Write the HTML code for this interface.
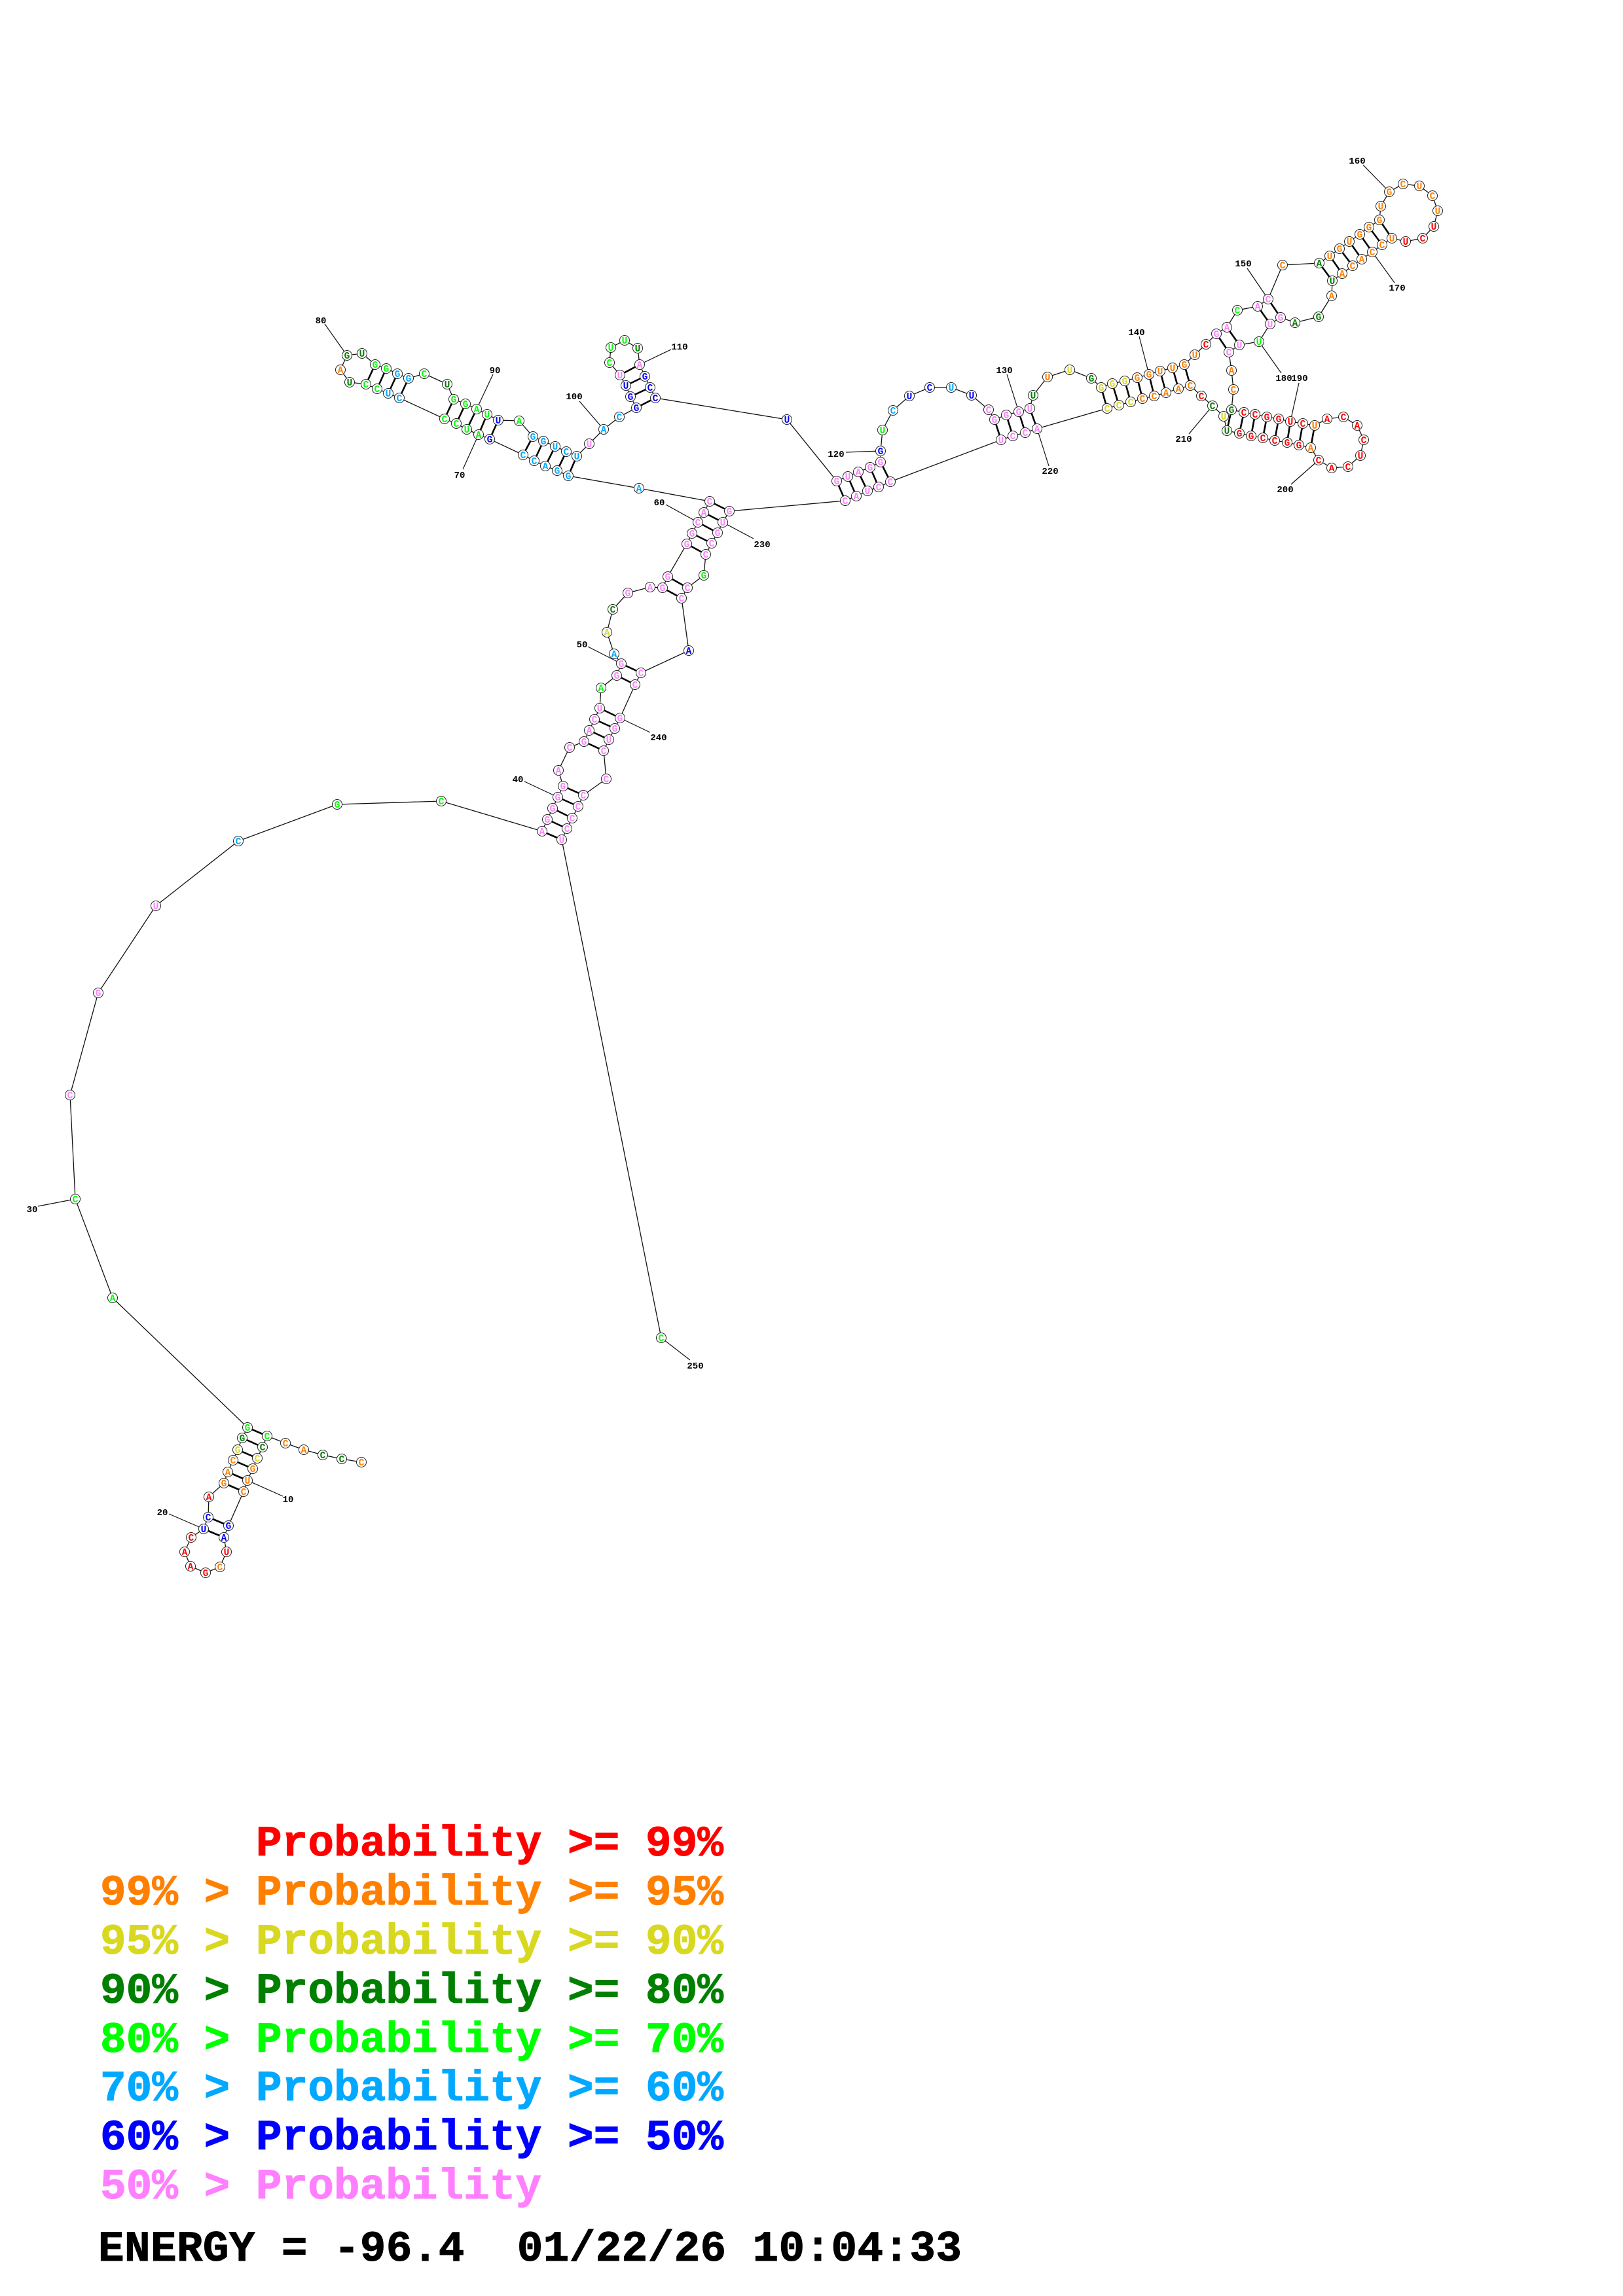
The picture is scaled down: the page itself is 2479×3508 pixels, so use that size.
<!DOCTYPE html>
<html>
<head>
<meta charset="utf-8">
<title>RNA secondary structure</title>
<style>
html,body{margin:0;padding:0;background:#fff}
svg{display:block}
circle{fill:#fff;stroke:#222;stroke-width:1}
.n text{font-family:"Liberation Mono",monospace;font-weight:bold;font-size:14.5px;text-anchor:middle;stroke:none}
.lab{font-family:"Liberation Mono",monospace;font-weight:bold;font-size:14px;text-anchor:middle;fill:#000}
.leg{font-family:"Liberation Mono",monospace;font-weight:bold;font-size:66px;stroke-width:1px}
.r{fill:#ff0000;stroke:#ff0000}.o{fill:#ff8000;stroke:#ff8000}.y{fill:#d8d820;stroke:#d8d820}.d{fill:#008000;stroke:#008000}.g{fill:#00ff00;stroke:#00ff00}.l{fill:#00a8ff;stroke:#00a8ff}.b{fill:#0000ff;stroke:#0000ff}.p{fill:#ff80ff;stroke:#ff80ff}.k{fill:#000;stroke:#000}
</style>
</head>
<body>
<svg xmlns="http://www.w3.org/2000/svg" width="2479" height="3508" viewBox="0 0 2479 3508">
<rect width="2479" height="3508" fill="#fff"/>
<polyline fill="none" stroke="#111" stroke-width="1.3" points="552,2234 522,2229 493,2223 464,2215 436,2205 408,2194 401,2211 393,2228 386,2244 378,2262 372,2279 349,2331 342,2349 346,2371 336,2394 314,2403 291,2393 282,2371 292,2349 311,2336 318,2318 319,2287 342,2266 348,2249 356,2231 363,2215 370,2197 378,2181 172,1983 115,1832 107,1673 150,1517 238,1384 364,1285 515,1229 674,1224 828,1270 836,1252 844,1235 852,1218 860,1201 853,1177 870,1142 892,1133 900,1116 908,1099 916,1082 918,1051 942,1032 949,1014 938,999 927,966 936,931 959,906 993,897 1012,898 1020,881 1049,831 1057,815 1066,798 1075,783 1084,766 976,746 868,727 851,719 833,712 816,704 799,695 748,671 731,664 713,656 697,647 679,640 610,608 593,601 576,594 559,587 534,584 520,565 530,543 553,540 573,557 590,563 607,571 624,578 648,571 683,587 693,610 711,617 728,625 744,633 761,642 793,643 814,667 830,674 848,682 865,690 881,697 900,678 922,656 946,637 972,623 963,606 956,589 947,573 931,554 933,531 954,520 974,532 977,557 985,575 993,592 1001,608 1202,641 1278,735 1295,728 1311,721 1329,714 1345,706 1345,689 1348,657 1364,627 1389,605 1420,592 1453,592 1484,604 1510,626 1519,641 1537,634 1556,629 1573,624 1578,604 1600,576 1634,565 1667,578 1682,592 1699,586 1718,582 1737,577 1755,572 1772,567 1791,562 1809,557 1825,542 1842,526 1858,510 1874,500 1890,474 1921,468 1937,457 1959,405 2015,402 2031,391 2046,380 2061,369 2077,358 2091,347 2107,336 2109,315 2122,293 2143,281 2168,284 2188,299 2196,322 2190,346 2173,364 2147,369 2126,364 2111,374 2096,385 2080,396 2066,406 2050,418 2035,429 2034,452 2014,484 1978,493 1956,485 1940,495 1923,522 1893,527 1877,538 1881,566 1884,595 1881,626 1900,630 1917,633 1935,637 1953,640 1971,644 1990,647 2008,650 2027,640 2052,637 2073,650 2083,672 2078,696 2059,713 2034,715 2014,703 2002,684 1984,680 1966,676 1947,673 1929,669 1911,666 1893,662 1874,658 1869,636 1852,620 1835,605 1818,589 1800,594 1781,600 1763,605 1745,609 1727,614 1709,619 1691,624 1584,655 1566,661 1547,666 1529,672 1360,736 1342,744 1325,750 1308,758 1291,765 1114,781 1104,798 1096,814 1087,830 1078,847 1075,879 1050,898 1041,914 1052,994 979,1028 970,1046 947,1097 939,1113 930,1130 922,1147 926,1190 891,1215 883,1232 874,1250 866,1266 858,1283 1010,2044"/>
<path fill="none" stroke="#000" stroke-width="2.6" d="M408 2194L378 2181M401 2211L370 2197M393 2228L363 2215M386 2244L356 2231M378 2262L348 2249M372 2279L342 2266M349 2331L318 2318M342 2349L311 2336M828 1270L858 1283M836 1252L866 1266M844 1235L874 1250M852 1218L883 1232M860 1201L891 1215M892 1133L922 1147M900 1116L930 1130M908 1099L939 1113M916 1082L947 1097M942 1032L970 1046M949 1014L979 1028M1012 898L1041 914M1020 881L1050 898M1049 831L1078 847M1057 815L1087 830M1066 798L1096 814M1075 783L1104 798M1084 766L1114 781M868 727L881 697M851 719L865 690M833 712L848 682M816 704L830 674M799 695L814 667M748 671L761 642M731 664L744 633M713 656L728 625M697 647L711 617M679 640L693 610M610 608L624 578M593 601L607 571M576 594L590 563M559 587L573 557M972 623L1001 608M963 606L993 592M956 589L985 575M947 573L977 557M1278 735L1291 765M1295 728L1308 758M1311 721L1325 750M1329 714L1342 744M1345 706L1360 736M1519 641L1529 672M1537 634L1547 666M1556 629L1566 661M1573 624L1584 655M1682 592L1691 624M1699 586L1709 619M1718 582L1727 614M1737 577L1745 609M1755 572L1763 605M1772 567L1781 600M1791 562L1800 594M1809 557L1818 589M1858 510L1877 538M1874 500L1893 527M1921 468L1940 495M1937 457L1956 485M2015 402L2035 429M2031 391L2050 418M2046 380L2066 406M2061 369L2080 396M2077 358L2096 385M2091 347L2111 374M2107 336L2126 364M1881 626L1874 658M1900 630L1893 662M1917 633L1911 666M1935 637L1929 669M1953 640L1947 673M1971 644L1966 676M1990 647L1984 680M2008 650L2002 684"/>
<path fill="none" stroke="#111" stroke-width="1.2" d="M378 2262L432 2286M311 2336L258 2313M115 1832L58 1843M852 1218L801 1194M949 1014L898 988M1066 798L1017 771M731 664L707 717M530 543L496 495M728 625L753 572M922 656L885 613M977 557L1025 534M1345 689L1292 691M1556 629L1538 572M1755 572L1740 514M1937 457L1905 410M2122 293L2082 252M2096 385L2130 432M1923 522L1957 570M1971 644L1984 585M2014 703L1972 740M1852 620L1816 663M1584 655L1602 712M1104 798L1151 823M947 1097L993 1119M1010 2044L1054 2078"/>
<g class="n">
<circle cx="552" cy="2234" r="7.5"/><text class="o" x="552" y="2239">C</text>
<circle cx="522" cy="2229" r="7.5"/><text class="d" x="522" y="2234">C</text>
<circle cx="493" cy="2223" r="7.5"/><text class="d" x="493" y="2228">C</text>
<circle cx="464" cy="2215" r="7.5"/><text class="o" x="464" y="2220">A</text>
<circle cx="436" cy="2205" r="7.5"/><text class="o" x="436" y="2210">C</text>
<circle cx="408" cy="2194" r="7.5"/><text class="g" x="408" y="2199">C</text>
<circle cx="401" cy="2211" r="7.5"/><text class="d" x="401" y="2216">C</text>
<circle cx="393" cy="2228" r="7.5"/><text class="y" x="393" y="2233">C</text>
<circle cx="386" cy="2244" r="7.5"/><text class="o" x="386" y="2249">G</text>
<circle cx="378" cy="2262" r="7.5"/><text class="o" x="378" y="2267">U</text>
<circle cx="372" cy="2279" r="7.5"/><text class="o" x="372" y="2284">C</text>
<circle cx="349" cy="2331" r="7.5"/><text class="b" x="349" y="2336">G</text>
<circle cx="342" cy="2349" r="7.5"/><text class="b" x="342" y="2354">A</text>
<circle cx="346" cy="2371" r="7.5"/><text class="r" x="346" y="2376">U</text>
<circle cx="336" cy="2394" r="7.5"/><text class="o" x="336" y="2399">C</text>
<circle cx="314" cy="2403" r="7.5"/><text class="r" x="314" y="2408">G</text>
<circle cx="291" cy="2393" r="7.5"/><text class="r" x="291" y="2398">A</text>
<circle cx="282" cy="2371" r="7.5"/><text class="r" x="282" y="2376">A</text>
<circle cx="292" cy="2349" r="7.5"/><text class="r" x="292" y="2354">C</text>
<circle cx="311" cy="2336" r="7.5"/><text class="b" x="311" y="2341">U</text>
<circle cx="318" cy="2318" r="7.5"/><text class="b" x="318" y="2323">C</text>
<circle cx="319" cy="2287" r="7.5"/><text class="r" x="319" y="2292">A</text>
<circle cx="342" cy="2266" r="7.5"/><text class="o" x="342" y="2271">G</text>
<circle cx="348" cy="2249" r="7.5"/><text class="o" x="348" y="2254">A</text>
<circle cx="356" cy="2231" r="7.5"/><text class="o" x="356" y="2236">C</text>
<circle cx="363" cy="2215" r="7.5"/><text class="y" x="363" y="2220">G</text>
<circle cx="370" cy="2197" r="7.5"/><text class="d" x="370" y="2202">G</text>
<circle cx="378" cy="2181" r="7.5"/><text class="g" x="378" y="2186">G</text>
<circle cx="172" cy="1983" r="7.5"/><text class="g" x="172" y="1988">A</text>
<circle cx="115" cy="1832" r="7.5"/><text class="g" x="115" y="1837">C</text>
<circle cx="107" cy="1673" r="7.5"/><text class="p" x="107" y="1678">C</text>
<circle cx="150" cy="1517" r="7.5"/><text class="p" x="150" y="1522">G</text>
<circle cx="238" cy="1384" r="7.5"/><text class="p" x="238" y="1389">U</text>
<circle cx="364" cy="1285" r="7.5"/><text class="l" x="364" y="1290">C</text>
<circle cx="515" cy="1229" r="7.5"/><text class="g" x="515" y="1234">G</text>
<circle cx="674" cy="1224" r="7.5"/><text class="g" x="674" y="1229">C</text>
<circle cx="828" cy="1270" r="7.5"/><text class="p" x="828" y="1275">A</text>
<circle cx="836" cy="1252" r="7.5"/><text class="p" x="836" y="1257">G</text>
<circle cx="844" cy="1235" r="7.5"/><text class="p" x="844" y="1240">G</text>
<circle cx="852" cy="1218" r="7.5"/><text class="p" x="852" y="1223">G</text>
<circle cx="860" cy="1201" r="7.5"/><text class="p" x="860" y="1206">G</text>
<circle cx="853" cy="1177" r="7.5"/><text class="p" x="853" y="1182">A</text>
<circle cx="870" cy="1142" r="7.5"/><text class="p" x="870" y="1147">C</text>
<circle cx="892" cy="1133" r="7.5"/><text class="p" x="892" y="1138">G</text>
<circle cx="900" cy="1116" r="7.5"/><text class="p" x="900" y="1121">A</text>
<circle cx="908" cy="1099" r="7.5"/><text class="p" x="908" y="1104">C</text>
<circle cx="916" cy="1082" r="7.5"/><text class="p" x="916" y="1087">U</text>
<circle cx="918" cy="1051" r="7.5"/><text class="g" x="918" y="1056">A</text>
<circle cx="942" cy="1032" r="7.5"/><text class="p" x="942" y="1037">G</text>
<circle cx="938" cy="999" r="7.5"/><text class="l" x="938" y="1004">A</text>
<circle cx="949" cy="1014" r="7.5"/><text class="p" x="949" y="1019">G</text>
<circle cx="927" cy="966" r="7.5"/><text class="y" x="927" y="971">A</text>
<circle cx="936" cy="931" r="7.5"/><text class="d" x="936" y="936">C</text>
<circle cx="959" cy="906" r="7.5"/><text class="p" x="959" y="911">G</text>
<circle cx="993" cy="897" r="7.5"/><text class="p" x="993" y="902">A</text>
<circle cx="1012" cy="898" r="7.5"/><text class="p" x="1012" y="903">G</text>
<circle cx="1020" cy="881" r="7.5"/><text class="p" x="1020" y="886">G</text>
<circle cx="1049" cy="831" r="7.5"/><text class="p" x="1049" y="836">G</text>
<circle cx="1057" cy="815" r="7.5"/><text class="p" x="1057" y="820">G</text>
<circle cx="1066" cy="798" r="7.5"/><text class="p" x="1066" y="803">C</text>
<circle cx="1075" cy="783" r="7.5"/><text class="p" x="1075" y="788">A</text>
<circle cx="1084" cy="766" r="7.5"/><text class="p" x="1084" y="771">C</text>
<circle cx="976" cy="746" r="7.5"/><text class="l" x="976" y="751">A</text>
<circle cx="868" cy="727" r="7.5"/><text class="l" x="868" y="732">G</text>
<circle cx="851" cy="719" r="7.5"/><text class="l" x="851" y="724">G</text>
<circle cx="833" cy="712" r="7.5"/><text class="l" x="833" y="717">A</text>
<circle cx="816" cy="704" r="7.5"/><text class="l" x="816" y="709">C</text>
<circle cx="799" cy="695" r="7.5"/><text class="l" x="799" y="700">C</text>
<circle cx="748" cy="671" r="7.5"/><text class="b" x="748" y="676">G</text>
<circle cx="731" cy="664" r="7.5"/><text class="g" x="731" y="669">A</text>
<circle cx="713" cy="656" r="7.5"/><text class="g" x="713" y="661">U</text>
<circle cx="697" cy="647" r="7.5"/><text class="g" x="697" y="652">C</text>
<circle cx="679" cy="640" r="7.5"/><text class="g" x="679" y="645">C</text>
<circle cx="610" cy="608" r="7.5"/><text class="l" x="610" y="613">C</text>
<circle cx="593" cy="601" r="7.5"/><text class="l" x="593" y="606">U</text>
<circle cx="576" cy="594" r="7.5"/><text class="g" x="576" y="599">C</text>
<circle cx="559" cy="587" r="7.5"/><text class="g" x="559" y="592">C</text>
<circle cx="534" cy="584" r="7.5"/><text class="d" x="534" y="589">U</text>
<circle cx="520" cy="565" r="7.5"/><text class="o" x="520" y="570">A</text>
<circle cx="530" cy="543" r="7.5"/><text class="d" x="530" y="548">G</text>
<circle cx="553" cy="540" r="7.5"/><text class="d" x="553" y="545">U</text>
<circle cx="573" cy="557" r="7.5"/><text class="g" x="573" y="562">G</text>
<circle cx="590" cy="563" r="7.5"/><text class="g" x="590" y="568">G</text>
<circle cx="607" cy="571" r="7.5"/><text class="l" x="607" y="576">G</text>
<circle cx="624" cy="578" r="7.5"/><text class="l" x="624" y="583">G</text>
<circle cx="648" cy="571" r="7.5"/><text class="g" x="648" y="576">C</text>
<circle cx="683" cy="587" r="7.5"/><text class="d" x="683" y="592">U</text>
<circle cx="693" cy="610" r="7.5"/><text class="g" x="693" y="615">G</text>
<circle cx="711" cy="617" r="7.5"/><text class="g" x="711" y="622">G</text>
<circle cx="728" cy="625" r="7.5"/><text class="g" x="728" y="630">A</text>
<circle cx="744" cy="633" r="7.5"/><text class="g" x="744" y="638">U</text>
<circle cx="761" cy="642" r="7.5"/><text class="b" x="761" y="647">U</text>
<circle cx="793" cy="643" r="7.5"/><text class="g" x="793" y="648">A</text>
<circle cx="814" cy="667" r="7.5"/><text class="l" x="814" y="672">G</text>
<circle cx="830" cy="674" r="7.5"/><text class="l" x="830" y="679">G</text>
<circle cx="848" cy="682" r="7.5"/><text class="l" x="848" y="687">U</text>
<circle cx="865" cy="690" r="7.5"/><text class="l" x="865" y="695">C</text>
<circle cx="881" cy="697" r="7.5"/><text class="l" x="881" y="702">U</text>
<circle cx="900" cy="678" r="7.5"/><text class="p" x="900" y="683">U</text>
<circle cx="922" cy="656" r="7.5"/><text class="l" x="922" y="661">A</text>
<circle cx="946" cy="637" r="7.5"/><text class="l" x="946" y="642">C</text>
<circle cx="972" cy="623" r="7.5"/><text class="b" x="972" y="628">G</text>
<circle cx="963" cy="606" r="7.5"/><text class="b" x="963" y="611">G</text>
<circle cx="956" cy="589" r="7.5"/><text class="b" x="956" y="594">U</text>
<circle cx="947" cy="573" r="7.5"/><text class="p" x="947" y="578">U</text>
<circle cx="931" cy="554" r="7.5"/><text class="g" x="931" y="559">C</text>
<circle cx="933" cy="531" r="7.5"/><text class="g" x="933" y="536">U</text>
<circle cx="954" cy="520" r="7.5"/><text class="g" x="954" y="525">U</text>
<circle cx="974" cy="532" r="7.5"/><text class="d" x="974" y="537">U</text>
<circle cx="977" cy="557" r="7.5"/><text class="p" x="977" y="562">A</text>
<circle cx="985" cy="575" r="7.5"/><text class="b" x="985" y="580">G</text>
<circle cx="993" cy="592" r="7.5"/><text class="b" x="993" y="597">C</text>
<circle cx="1001" cy="608" r="7.5"/><text class="b" x="1001" y="613">C</text>
<circle cx="1202" cy="641" r="7.5"/><text class="b" x="1202" y="646">U</text>
<circle cx="1278" cy="735" r="7.5"/><text class="p" x="1278" y="740">G</text>
<circle cx="1295" cy="728" r="7.5"/><text class="p" x="1295" y="733">U</text>
<circle cx="1311" cy="721" r="7.5"/><text class="p" x="1311" y="726">A</text>
<circle cx="1329" cy="714" r="7.5"/><text class="p" x="1329" y="719">G</text>
<circle cx="1345" cy="706" r="7.5"/><text class="p" x="1345" y="711">G</text>
<circle cx="1345" cy="689" r="7.5"/><text class="b" x="1345" y="694">G</text>
<circle cx="1348" cy="657" r="7.5"/><text class="g" x="1348" y="662">U</text>
<circle cx="1364" cy="627" r="7.5"/><text class="l" x="1364" y="632">C</text>
<circle cx="1389" cy="605" r="7.5"/><text class="b" x="1389" y="610">U</text>
<circle cx="1420" cy="592" r="7.5"/><text class="b" x="1420" y="597">C</text>
<circle cx="1453" cy="592" r="7.5"/><text class="l" x="1453" y="597">U</text>
<circle cx="1484" cy="604" r="7.5"/><text class="b" x="1484" y="609">U</text>
<circle cx="1510" cy="626" r="7.5"/><text class="p" x="1510" y="631">C</text>
<circle cx="1519" cy="641" r="7.5"/><text class="p" x="1519" y="646">G</text>
<circle cx="1537" cy="634" r="7.5"/><text class="p" x="1537" y="639">G</text>
<circle cx="1556" cy="629" r="7.5"/><text class="p" x="1556" y="634">G</text>
<circle cx="1573" cy="624" r="7.5"/><text class="p" x="1573" y="629">U</text>
<circle cx="1578" cy="604" r="7.5"/><text class="d" x="1578" y="609">U</text>
<circle cx="1600" cy="576" r="7.5"/><text class="o" x="1600" y="581">U</text>
<circle cx="1634" cy="565" r="7.5"/><text class="y" x="1634" y="570">U</text>
<circle cx="1667" cy="578" r="7.5"/><text class="d" x="1667" y="583">G</text>
<circle cx="1682" cy="592" r="7.5"/><text class="y" x="1682" y="597">G</text>
<circle cx="1699" cy="586" r="7.5"/><text class="y" x="1699" y="591">G</text>
<circle cx="1718" cy="582" r="7.5"/><text class="y" x="1718" y="587">G</text>
<circle cx="1737" cy="577" r="7.5"/><text class="o" x="1737" y="582">G</text>
<circle cx="1755" cy="572" r="7.5"/><text class="o" x="1755" y="577">G</text>
<circle cx="1772" cy="567" r="7.5"/><text class="o" x="1772" y="572">U</text>
<circle cx="1791" cy="562" r="7.5"/><text class="o" x="1791" y="567">U</text>
<circle cx="1809" cy="557" r="7.5"/><text class="o" x="1809" y="562">G</text>
<circle cx="1825" cy="542" r="7.5"/><text class="o" x="1825" y="547">U</text>
<circle cx="1842" cy="526" r="7.5"/><text class="r" x="1842" y="531">C</text>
<circle cx="1858" cy="510" r="7.5"/><text class="p" x="1858" y="515">G</text>
<circle cx="1874" cy="500" r="7.5"/><text class="p" x="1874" y="505">A</text>
<circle cx="1890" cy="474" r="7.5"/><text class="g" x="1890" y="479">C</text>
<circle cx="1921" cy="468" r="7.5"/><text class="p" x="1921" y="473">A</text>
<circle cx="1937" cy="457" r="7.5"/><text class="p" x="1937" y="462">C</text>
<circle cx="1959" cy="405" r="7.5"/><text class="o" x="1959" y="410">C</text>
<circle cx="2015" cy="402" r="7.5"/><text class="d" x="2015" y="407">A</text>
<circle cx="2031" cy="391" r="7.5"/><text class="o" x="2031" y="396">U</text>
<circle cx="2046" cy="380" r="7.5"/><text class="o" x="2046" y="385">G</text>
<circle cx="2061" cy="369" r="7.5"/><text class="o" x="2061" y="374">U</text>
<circle cx="2077" cy="358" r="7.5"/><text class="o" x="2077" y="363">G</text>
<circle cx="2091" cy="347" r="7.5"/><text class="o" x="2091" y="352">G</text>
<circle cx="2107" cy="336" r="7.5"/><text class="o" x="2107" y="341">G</text>
<circle cx="2109" cy="315" r="7.5"/><text class="o" x="2109" y="320">U</text>
<circle cx="2122" cy="293" r="7.5"/><text class="o" x="2122" y="298">G</text>
<circle cx="2143" cy="281" r="7.5"/><text class="o" x="2143" y="286">C</text>
<circle cx="2168" cy="284" r="7.5"/><text class="o" x="2168" y="289">U</text>
<circle cx="2188" cy="299" r="7.5"/><text class="o" x="2188" y="304">C</text>
<circle cx="2196" cy="322" r="7.5"/><text class="o" x="2196" y="327">U</text>
<circle cx="2190" cy="346" r="7.5"/><text class="r" x="2190" y="351">U</text>
<circle cx="2173" cy="364" r="7.5"/><text class="r" x="2173" y="369">C</text>
<circle cx="2147" cy="369" r="7.5"/><text class="r" x="2147" y="374">U</text>
<circle cx="2126" cy="364" r="7.5"/><text class="o" x="2126" y="369">U</text>
<circle cx="2111" cy="374" r="7.5"/><text class="o" x="2111" y="379">C</text>
<circle cx="2096" cy="385" r="7.5"/><text class="o" x="2096" y="390">C</text>
<circle cx="2080" cy="396" r="7.5"/><text class="o" x="2080" y="401">A</text>
<circle cx="2066" cy="406" r="7.5"/><text class="o" x="2066" y="411">C</text>
<circle cx="2050" cy="418" r="7.5"/><text class="o" x="2050" y="423">A</text>
<circle cx="2035" cy="429" r="7.5"/><text class="d" x="2035" y="434">U</text>
<circle cx="2034" cy="452" r="7.5"/><text class="o" x="2034" y="457">A</text>
<circle cx="2014" cy="484" r="7.5"/><text class="d" x="2014" y="489">G</text>
<circle cx="1978" cy="493" r="7.5"/><text class="d" x="1978" y="498">A</text>
<circle cx="1956" cy="485" r="7.5"/><text class="p" x="1956" y="490">G</text>
<circle cx="1940" cy="495" r="7.5"/><text class="p" x="1940" y="500">U</text>
<circle cx="1923" cy="522" r="7.5"/><text class="g" x="1923" y="527">U</text>
<circle cx="1893" cy="527" r="7.5"/><text class="p" x="1893" y="532">U</text>
<circle cx="1877" cy="538" r="7.5"/><text class="p" x="1877" y="543">C</text>
<circle cx="1881" cy="566" r="7.5"/><text class="o" x="1881" y="571">A</text>
<circle cx="1884" cy="595" r="7.5"/><text class="o" x="1884" y="600">C</text>
<circle cx="1900" cy="630" r="7.5"/><text class="r" x="1900" y="635">C</text>
<circle cx="1917" cy="633" r="7.5"/><text class="r" x="1917" y="638">C</text>
<circle cx="1935" cy="637" r="7.5"/><text class="r" x="1935" y="642">G</text>
<circle cx="1953" cy="640" r="7.5"/><text class="r" x="1953" y="645">G</text>
<circle cx="1971" cy="644" r="7.5"/><text class="r" x="1971" y="649">U</text>
<circle cx="1990" cy="647" r="7.5"/><text class="r" x="1990" y="652">C</text>
<circle cx="2008" cy="650" r="7.5"/><text class="o" x="2008" y="655">U</text>
<circle cx="2027" cy="640" r="7.5"/><text class="r" x="2027" y="645">A</text>
<circle cx="2052" cy="637" r="7.5"/><text class="r" x="2052" y="642">C</text>
<circle cx="2073" cy="650" r="7.5"/><text class="r" x="2073" y="655">A</text>
<circle cx="2083" cy="672" r="7.5"/><text class="r" x="2083" y="677">C</text>
<circle cx="2078" cy="696" r="7.5"/><text class="r" x="2078" y="701">U</text>
<circle cx="2059" cy="713" r="7.5"/><text class="r" x="2059" y="718">C</text>
<circle cx="2034" cy="715" r="7.5"/><text class="r" x="2034" y="720">A</text>
<circle cx="2014" cy="703" r="7.5"/><text class="r" x="2014" y="708">C</text>
<circle cx="2002" cy="684" r="7.5"/><text class="o" x="2002" y="689">A</text>
<circle cx="1984" cy="680" r="7.5"/><text class="r" x="1984" y="685">G</text>
<circle cx="1966" cy="676" r="7.5"/><text class="r" x="1966" y="681">G</text>
<circle cx="1947" cy="673" r="7.5"/><text class="r" x="1947" y="678">C</text>
<circle cx="1929" cy="669" r="7.5"/><text class="r" x="1929" y="674">C</text>
<circle cx="1911" cy="666" r="7.5"/><text class="r" x="1911" y="671">G</text>
<circle cx="1893" cy="662" r="7.5"/><text class="r" x="1893" y="667">G</text>
<circle cx="1874" cy="658" r="7.5"/><text class="d" x="1874" y="663">U</text>
<circle cx="1869" cy="636" r="7.5"/><text class="y" x="1869" y="641">U</text>
<circle cx="1881" cy="626" r="7.5"/><text class="d" x="1881" y="631">G</text>
<circle cx="1852" cy="620" r="7.5"/><text class="d" x="1852" y="625">C</text>
<circle cx="1835" cy="605" r="7.5"/><text class="r" x="1835" y="610">C</text>
<circle cx="1818" cy="589" r="7.5"/><text class="o" x="1818" y="594">C</text>
<circle cx="1800" cy="594" r="7.5"/><text class="o" x="1800" y="599">A</text>
<circle cx="1781" cy="600" r="7.5"/><text class="o" x="1781" y="605">A</text>
<circle cx="1763" cy="605" r="7.5"/><text class="o" x="1763" y="610">C</text>
<circle cx="1745" cy="609" r="7.5"/><text class="o" x="1745" y="614">C</text>
<circle cx="1727" cy="614" r="7.5"/><text class="y" x="1727" y="619">C</text>
<circle cx="1709" cy="619" r="7.5"/><text class="y" x="1709" y="624">C</text>
<circle cx="1691" cy="624" r="7.5"/><text class="y" x="1691" y="629">C</text>
<circle cx="1584" cy="655" r="7.5"/><text class="p" x="1584" y="660">A</text>
<circle cx="1566" cy="661" r="7.5"/><text class="p" x="1566" y="666">C</text>
<circle cx="1547" cy="666" r="7.5"/><text class="p" x="1547" y="671">C</text>
<circle cx="1529" cy="672" r="7.5"/><text class="p" x="1529" y="677">U</text>
<circle cx="1360" cy="736" r="7.5"/><text class="p" x="1360" y="741">C</text>
<circle cx="1342" cy="744" r="7.5"/><text class="p" x="1342" y="749">C</text>
<circle cx="1325" cy="750" r="7.5"/><text class="p" x="1325" y="755">U</text>
<circle cx="1308" cy="758" r="7.5"/><text class="p" x="1308" y="763">A</text>
<circle cx="1291" cy="765" r="7.5"/><text class="p" x="1291" y="770">C</text>
<circle cx="1114" cy="781" r="7.5"/><text class="p" x="1114" y="786">G</text>
<circle cx="1104" cy="798" r="7.5"/><text class="p" x="1104" y="803">U</text>
<circle cx="1096" cy="814" r="7.5"/><text class="p" x="1096" y="819">G</text>
<circle cx="1087" cy="830" r="7.5"/><text class="p" x="1087" y="835">C</text>
<circle cx="1078" cy="847" r="7.5"/><text class="p" x="1078" y="852">C</text>
<circle cx="1075" cy="879" r="7.5"/><text class="g" x="1075" y="884">G</text>
<circle cx="1050" cy="898" r="7.5"/><text class="p" x="1050" y="903">C</text>
<circle cx="1041" cy="914" r="7.5"/><text class="p" x="1041" y="919">C</text>
<circle cx="1052" cy="994" r="7.5"/><text class="b" x="1052" y="999">A</text>
<circle cx="979" cy="1028" r="7.5"/><text class="p" x="979" y="1033">C</text>
<circle cx="970" cy="1046" r="7.5"/><text class="p" x="970" y="1051">C</text>
<circle cx="947" cy="1097" r="7.5"/><text class="p" x="947" y="1102">G</text>
<circle cx="939" cy="1113" r="7.5"/><text class="p" x="939" y="1118">G</text>
<circle cx="930" cy="1130" r="7.5"/><text class="p" x="930" y="1135">U</text>
<circle cx="922" cy="1147" r="7.5"/><text class="p" x="922" y="1152">C</text>
<circle cx="926" cy="1190" r="7.5"/><text class="p" x="926" y="1195">C</text>
<circle cx="891" cy="1215" r="7.5"/><text class="p" x="891" y="1220">C</text>
<circle cx="883" cy="1232" r="7.5"/><text class="p" x="883" y="1237">C</text>
<circle cx="874" cy="1250" r="7.5"/><text class="p" x="874" y="1255">C</text>
<circle cx="866" cy="1266" r="7.5"/><text class="p" x="866" y="1271">C</text>
<circle cx="858" cy="1283" r="7.5"/><text class="p" x="858" y="1288">U</text>
<circle cx="1010" cy="2044" r="7.5"/><text class="g" x="1010" y="2049">C</text>
</g>
<g class="lab">
<text x="440" y="2295">10</text>
<text x="248" y="2315">20</text>
<text x="49" y="1852">30</text>
<text x="791" y="1195">40</text>
<text x="889" y="989">50</text>
<text x="1007" y="772">60</text>
<text x="702" y="730">70</text>
<text x="490" y="494">80</text>
<text x="756" y="570">90</text>
<text x="877" y="610">100</text>
<text x="1038" y="534">110</text>
<text x="1277" y="698">120</text>
<text x="1534" y="570">130</text>
<text x="1736" y="512">140</text>
<text x="1899" y="407">150</text>
<text x="2073" y="250">160</text>
<text x="2134" y="444">170</text>
<text x="1961" y="582">180</text>
<text x="1985" y="582">190</text>
<text x="1963" y="752">200</text>
<text x="1808" y="675">210</text>
<text x="1604" y="724">220</text>
<text x="1164" y="836">230</text>
<text x="1006" y="1131">240</text>
<text x="1062" y="2091">250</text>
</g>
<g class="leg" xml:space="preserve">
<text class="r" x="153" y="2835" textLength="952" xml:space="preserve">      Probability &gt;= 99%</text>
<text class="o" x="153" y="2910" textLength="952" xml:space="preserve">99% &gt; Probability &gt;= 95%</text>
<text class="y" x="153" y="2985" textLength="952" xml:space="preserve">95% &gt; Probability &gt;= 90%</text>
<text class="d" x="153" y="3060" textLength="952" xml:space="preserve">90% &gt; Probability &gt;= 80%</text>
<text class="g" x="153" y="3135" textLength="952" xml:space="preserve">80% &gt; Probability &gt;= 70%</text>
<text class="l" x="153" y="3209" textLength="952" xml:space="preserve">70% &gt; Probability &gt;= 60%</text>
<text class="b" x="153" y="3284" textLength="952" xml:space="preserve">60% &gt; Probability &gt;= 50%</text>
<text class="p" x="153" y="3359" textLength="674" xml:space="preserve">50% &gt; Probability</text>
<text class="k" x="150" y="3454" textLength="1319" xml:space="preserve">ENERGY = -96.4  01/22/26 10:04:33</text>
</g>
</svg>
</body>
</html>
